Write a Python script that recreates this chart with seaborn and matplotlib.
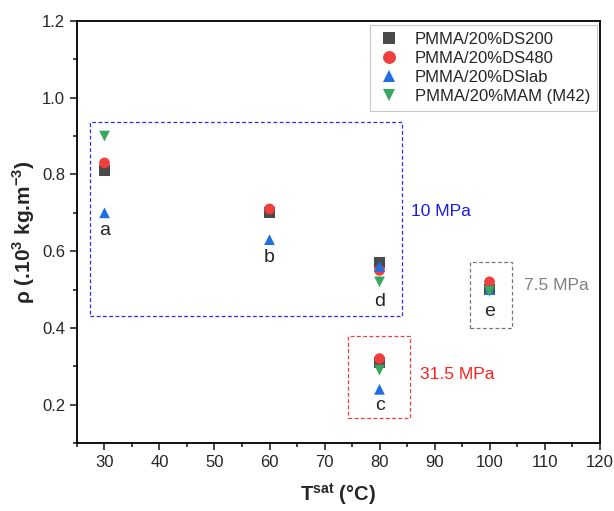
import pandas as pd
import numpy as np
import matplotlib
matplotlib.use("Agg")
import matplotlib.pyplot as plt
import seaborn as sns
from matplotlib.patches import Rectangle
from matplotlib.ticker import MultipleLocator

# data
series = ["PMMA/20%DS200", "PMMA/20%DS480", "PMMA/20%DSlab", "PMMA/20%MAM (M42)"]
t_ds200 = [30, 60, 80, 80, 100]
rho_ds200 = [0.81, 0.70, 0.57, 0.31, 0.50]
t_ds480 = [30, 60, 80, 80, 100]
rho_ds480 = [0.83, 0.71, 0.55, 0.32, 0.52]
t_dslab = [30, 60, 80, 80, 100]
rho_dslab = [0.70, 0.63, 0.56, 0.24, 0.50]
t_mam = [30, 80, 80, 100]
rho_mam = [0.90, 0.52, 0.29, 0.495]

point_labels = ["a", "b", "d", "c", "e"]
label_t = [30, 60, 80, 80, 100]
label_rho = [0.655, 0.583, 0.47, 0.197, 0.443]

colors = ["#4a4a4a", "#ef3e3e", "#1f6fe0", "#38a860"]
markers = ["s", "o", "^", "v"]

frames = []
for name, t, r in zip(series, [t_ds200, t_ds480, t_dslab, t_mam],
                      [rho_ds200, rho_ds480, rho_dslab, rho_mam]):
    frames.append(pd.DataFrame({"T": t, "rho": r, "Sample": name}))
df = pd.concat(frames, ignore_index=True)

sns.set_style("ticks")
plt.rcParams["font.family"] = ["Liberation Sans", "DejaVu Sans"]
plt.rcParams["mathtext.fontset"] = "custom"
plt.rcParams["mathtext.rm"] = "Liberation Sans"
plt.rcParams["mathtext.bf"] = "Liberation Sans:bold"

fig = plt.figure(figsize=(6.14, 5.11), dpi=100)
ax = fig.add_axes([0.1254, 0.133, 0.851, 0.826])

sns.scatterplot(data=df, x="T", y="rho", hue="Sample", style="Sample",
                palette=dict(zip(series, colors)), markers=dict(zip(series, markers)),
                s=60, linewidth=0, ax=ax, zorder=3)

# pressure boxes
boxes = [((27.4, 0.43), 56.6, 0.506, "#2b2bee"),
         ((74.3, 0.166), 11.3, 0.212, "#ee3b3b"),
         ((96.5, 0.40), 7.5, 0.173, "#777777")]
for (xy, w, h, c) in boxes:
    ax.add_patch(Rectangle(xy, w, h, fill=False, ls=(0, (3, 2)), lw=0.9, ec=c, zorder=2))

ax.text(85.8, 0.704, "10 MPa", color="#1a1aee", fontsize=12.5, va="center")
ax.text(87.3, 0.278, "31.5 MPa", color="#ff2020", fontsize=12.5, va="center")
ax.text(106.2, 0.51, "7.5 MPa", color="#808080", fontsize=12.5, va="center")

for lab, t, r in zip(point_labels, label_t, label_rho):
    ax.text(t, r, lab, fontsize=14, ha="center", va="center")

ax.set_xlim(25, 120)
ax.set_ylim(0.1, 1.2)
ax.set_xticks(np.arange(30, 121, 10))
ax.set_yticks(np.arange(0.2, 1.21, 0.2))
ax.xaxis.set_minor_locator(MultipleLocator(5))
ax.yaxis.set_minor_locator(MultipleLocator(0.1))
ax.yaxis.set_major_formatter(plt.FuncFormatter(lambda v, p: f"{v:.1f}"))
ax.tick_params(which="major", length=5, width=1.2, labelsize=12, direction="out")
ax.tick_params(which="minor", length=3, width=1.2, direction="out")
for sp in ax.spines.values():
    sp.set_linewidth(1.3)
    sp.set_color("black")

ax.set_xlabel(r"T$^{\mathbf{sat}}$ (°C)", fontsize=14.5, fontweight="bold", labelpad=8)
ax.set_ylabel(r"ρ (.10$^{\mathbf{3}}$ kg.m$^{\mathbf{-3}}$)", fontsize=15, fontweight="bold", labelpad=4)

leg = ax.legend(loc="upper right", bbox_to_anchor=(0.995, 0.9905), borderaxespad=0,
                frameon=True, fancybox=False, edgecolor="#bbbbbb", fontsize=12,
                handlelength=1.5, handletextpad=0.8, borderpad=0.4, labelspacing=0.25,
                markerscale=1.2)
leg.get_frame().set_linewidth(0.8)

fig.savefig("out.png", dpi=100)
